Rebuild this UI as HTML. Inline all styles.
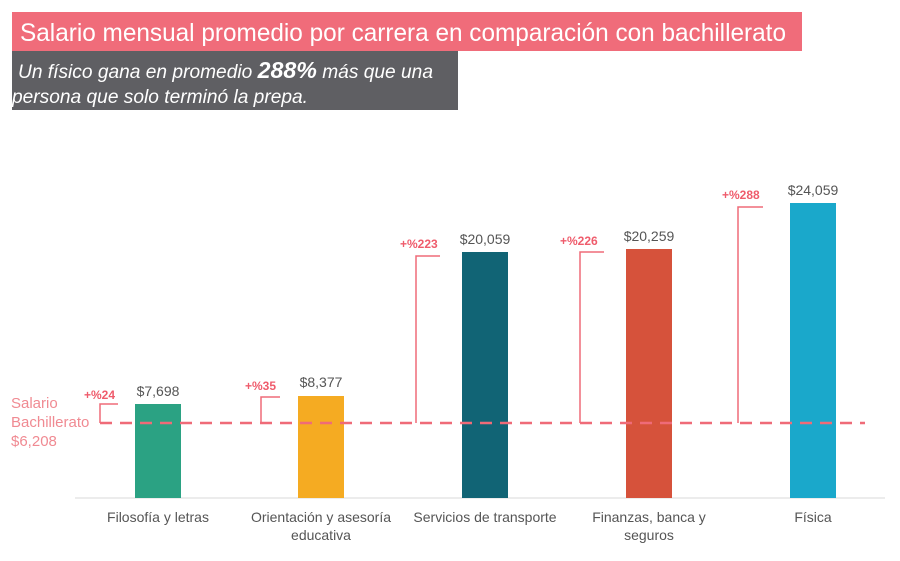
<!DOCTYPE html>
<html><head><meta charset="utf-8"><style>
body{margin:0;background:#fff;width:900px;height:556px;overflow:hidden;font-family:"Liberation Sans",sans-serif}
</style></head><body>
<svg width="900" height="556" xmlns="http://www.w3.org/2000/svg" font-family="Liberation Sans, sans-serif">
<rect x="0" y="0" width="900" height="556" fill="#fff"/>
<rect x="12" y="12" width="790" height="39" fill="#f06c7a"/>
<text x="20" y="41" font-size="25" fill="#fff" textLength="766" lengthAdjust="spacingAndGlyphs">Salario mensual promedio por carrera en comparación con bachillerato</text>
<rect x="12" y="51" width="446" height="59" fill="#5f5f63"/>
<text x="18" y="78" font-size="19" font-style="italic" fill="#fff" textLength="415" lengthAdjust="spacingAndGlyphs">Un físico gana en promedio <tspan font-weight="bold" font-size="23">288%</tspan> más que una</text>
<text x="12" y="103" font-size="19" font-style="italic" fill="#fff" textLength="296" lengthAdjust="spacingAndGlyphs">persona que solo terminó la prepa.</text>
<line x1="75" y1="498" x2="885" y2="498" stroke="#d8d8d8" stroke-width="1"/>
<rect x="135" y="404" width="46" height="94" fill="#2ba283"/>
<rect x="298" y="396" width="46" height="102" fill="#f5ab22"/>
<rect x="462" y="252" width="46" height="246" fill="#116475"/>
<rect x="626" y="249" width="46" height="249" fill="#d6523b"/>
<rect x="790" y="203" width="46" height="295" fill="#1aa8cb"/>
<g font-size="14" fill="#555" text-anchor="middle">
<text x="158" y="396">$7,698</text>
<text x="321" y="387">$8,377</text>
<text x="485" y="244">$20,059</text>
<text x="649" y="241">$20,259</text>
<text x="813" y="195">$24,059</text>
</g>
<g font-size="14" fill="#555" text-anchor="middle">
<text x="158" y="522">Filosofía y letras</text>
<text x="321" y="522">Orientación y asesoría</text>
<text x="321" y="540">educativa</text>
<text x="485" y="522">Servicios de transporte</text>
<text x="649" y="522">Finanzas, banca y</text>
<text x="649" y="540">seguros</text>
<text x="813" y="522">Física</text>
</g>
<line x1="100" y1="423" x2="865" y2="423" stroke="#ef6b78" stroke-width="2.5" stroke-dasharray="12,8"/>
<g stroke="#ef6b78" stroke-width="1.5" fill="none">
<polyline points="118,404 100,404 100,423"/>
<polyline points="280,397 261,397 261,423"/>
<polyline points="440,256 416,256 416,423"/>
<polyline points="604,252 580,252 580,423"/>
<polyline points="763,207 738,207 738,423"/>
</g>
<g font-size="12" font-weight="bold" fill="#ef5c6c">
<text x="84" y="399">+%24</text>
<text x="245" y="390">+%35</text>
<text x="400" y="248">+%223</text>
<text x="560" y="245">+%226</text>
<text x="722" y="199">+%288</text>
</g>
<g font-size="15" fill="#f08a92">
<text x="11" y="408">Salario</text>
<text x="11" y="427">Bachillerato</text>
<text x="11" y="446">$6,208</text>
</g>
</svg>
</body></html>
